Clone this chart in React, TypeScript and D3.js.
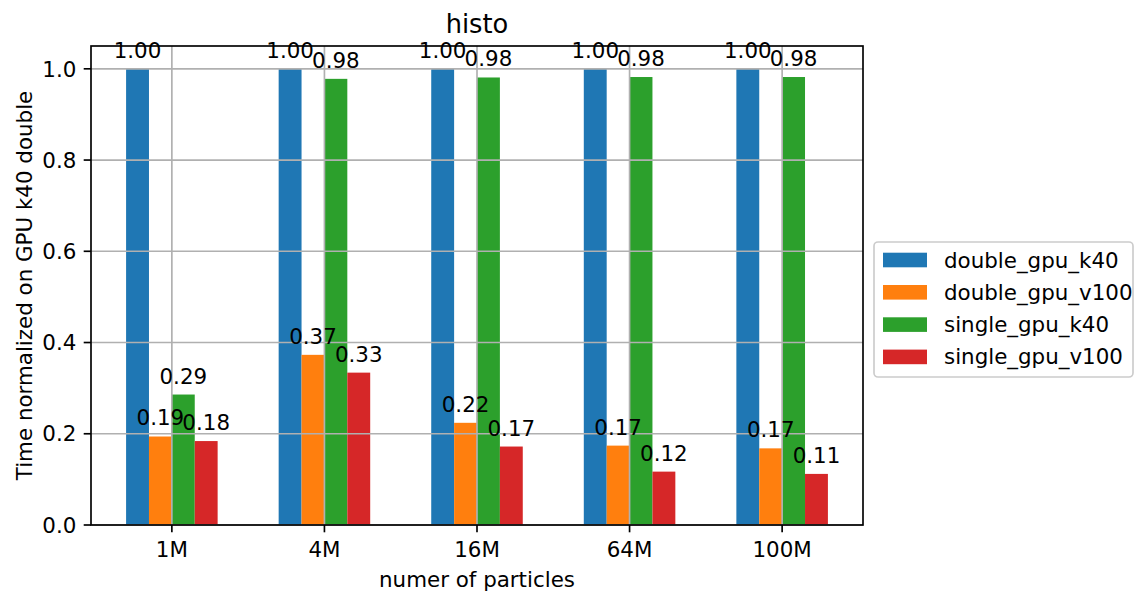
import React from "react";
import * as d3 from "d3";

// Problem sizes along the x axis
const categories = ["1M", "4M", "16M", "64M", "100M"];

// Runtime normalised on the double-precision K40 run
const seriesNames = ["double_gpu_k40", "double_gpu_v100", "single_gpu_k40", "single_gpu_v100"];
const doubleGpuK40 = [1.0, 1.0, 1.0, 1.0, 1.0];
const doubleGpuV100 = [0.194, 0.373, 0.224, 0.174, 0.168];
const singleGpuK40 = [0.286, 0.978, 0.981, 0.982, 0.982];
const singleGpuV100 = [0.184, 0.334, 0.172, 0.117, 0.112];
const yTicks = [0, 0.2, 0.4, 0.6, 0.8, 1.0];

const seriesValues = [doubleGpuK40, doubleGpuV100, singleGpuK40, singleGpuV100];
const colors = ["#1f77b4", "#ff7f0e", "#2ca02c", "#d62728"];

const W = 1135;
const H = 591;
const plot = { left: 91, right: 863, top: 46, bottom: 525 };
const barWidth = 0.15;
const FONT = "DejaVu Sans, sans-serif";
const FS = 21.4;
const GRID = "#b0b0b0";

export default function App() {
  const n = categories.length;
  const half = barWidth * seriesValues.length / 2;
  const span = (n - 1) + 2 * half;
  const x = d3
    .scaleLinear()
    .domain([-half - 0.05 * span, n - 1 + half + 0.05 * span])
    .range([plot.left, plot.right]);
  const y = d3.scaleLinear().domain([0, 1.05]).range([plot.bottom, plot.top]);
  const fmt = d3.format(".2f");
  const tickFmt = d3.format(".1f");

  const bars = seriesValues.flatMap((vals, s) =>
    vals.map((v, i) => {
      const x0 = i + (s - seriesValues.length / 2) * barWidth;
      return { s, i, v, x0, x1: x0 + barWidth };
    })
  );

  const legend = { x: 874, y: 242, w: 259, h: 135 };
  const rowY = (k: number) => 260 + k * 32.3;

  return (
    <svg
      width={W}
      height={H}
      style={{ position: "absolute", left: 0, top: 0, background: "#fff" }}
      fontFamily={FONT}
    >
      <rect x={0} y={0} width={W} height={H} fill="#fff" />

      {/* bars */}
      {bars.map((b) => (
        <rect
          key={`b-${b.s}-${b.i}`}
          x={x(b.x0)}
          y={y(b.v)}
          width={x(b.x1) - x(b.x0)}
          height={y(0) - y(b.v)}
          fill={colors[b.s]}
        />
      ))}

      {/* grid above the bars */}
      {yTicks.map((t) => (
        <line
          key={`gy-${t}`}
          x1={plot.left}
          x2={plot.right}
          y1={y(t)}
          y2={y(t)}
          stroke={GRID}
          strokeWidth={1.67}
        />
      ))}
      {categories.map((c, i) => (
        <line
          key={`gx-${c}`}
          x1={x(i)}
          x2={x(i)}
          y1={plot.top}
          y2={plot.bottom}
          stroke={GRID}
          strokeWidth={1.67}
        />
      ))}

      {/* value labels */}
      {bars.map((b) => (
        <text
          key={`t-${b.s}-${b.i}`}
          x={(x(b.x0) + x(b.x1)) / 2}
          y={y(b.v) - 11}
          fontSize={FS}
          textAnchor="middle"
          fill="#000"
        >
          {fmt(b.v)}
        </text>
      ))}

      {/* spines */}
      <rect
        x={plot.left}
        y={plot.top}
        width={plot.right - plot.left}
        height={plot.bottom - plot.top}
        fill="none"
        stroke="#000"
        strokeWidth={1.67}
      />

      {/* y ticks */}
      {yTicks.map((t) => (
        <g key={`yt-${t}`}>
          <line x1={plot.left - 7.3} x2={plot.left} y1={y(t)} y2={y(t)} stroke="#000" strokeWidth={1.67} />
          <text x={plot.left - 14.6} y={y(t)} dy="0.36em" fontSize={FS} textAnchor="end" fill="#000">
            {tickFmt(t)}
          </text>
        </g>
      ))}

      {/* x ticks */}
      {categories.map((c, i) => (
        <g key={`xt-${c}`}>
          <line x1={x(i)} x2={x(i)} y1={plot.bottom} y2={plot.bottom + 7.3} stroke="#000" strokeWidth={1.67} />
          <text x={x(i)} y={557} fontSize={FS} textAnchor="middle" fill="#000">
            {c}
          </text>
        </g>
      ))}

      {/* axis labels and title */}
      <text
        x={(plot.left + plot.right) / 2}
        y={587}
        fontSize={FS}
        textAnchor="middle"
        fill="#000"
      >
        numer of particles
      </text>
      <text
        transform={`translate(31.5, ${(plot.top + plot.bottom) / 2}) rotate(-90)`}
        fontSize={FS}
        textAnchor="middle"
        fill="#000"
      >
        Time normalized on GPU k40 double
      </text>
      <text x={(plot.left + plot.right) / 2} y={32.5} fontSize={25.7} textAnchor="middle" fill="#000">
        histo
      </text>

      {/* legend */}
      <rect
        x={legend.x}
        y={legend.y}
        width={legend.w}
        height={legend.h}
        rx={4}
        fill="#fff"
        fillOpacity={0.8}
        stroke="#cccccc"
        strokeWidth={1.67}
      />
      {seriesNames.map((name, k) => (
        <g key={`lg-${name}`}>
          <rect x={883} y={rowY(k) - 7.3} width={44} height={14.6} fill={colors[k]} />
          <text x={944} y={rowY(k) + 7.5} fontSize={FS} fill="#000">
            {name}
          </text>
        </g>
      ))}
    </svg>
  );
}
